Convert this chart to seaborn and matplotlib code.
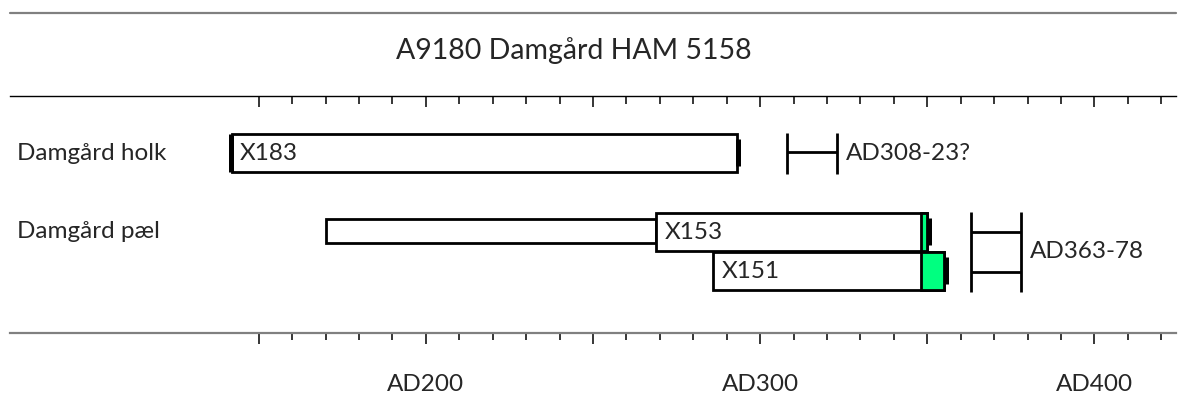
import numpy as np
import pandas as pd
import matplotlib
matplotlib.use("Agg")
import matplotlib.pyplot as plt
import matplotlib.transforms as mtransforms
from matplotlib.lines import Line2D
from matplotlib.ticker import FixedLocator, FuncFormatter
import seaborn as sns

# ------------------------------------------
# data (years AD)
# ------------------------------------------
chart_title = "A9180 Damgård HAM 5158"
group_names = ["Damgård holk", "Damgård pæl"]

sample_ids = ["X183", "X153", "X151"]
sample_first = [142, 269, 286]
sample_sap = [np.nan, 348, 348]      # heartwood/sapwood boundary
sample_last = [293, 350, 355]
sample_start_cap = [True, False, False]

# earlier part of the pæl (no sample label)
pith_first = [170]
pith_last = [269]

felling_labels = ["AD308-23?", "AD363-78"]
felling_first = [308, 363]
felling_last = [323, 378]

major_years = list(range(150, 401, 50))
minor_years = list(range(150, 421, 10))

# ------------------------------------------
# layout (pixel rows from the top of the picture)
# ------------------------------------------
W, H = 1182, 407
group_y = [153, 231]
sample_y = [152.5, 231.5, 270.5]
bar_h = 38
pith_y = [231]
pith_h = 24
felling_span = [(133, 174), (212, 292)]
felling_bars = [[152.3], [232.3, 271.7]]

df = pd.DataFrame({
    "id": sample_ids,
    "first": sample_first,
    "sap": sample_sap,
    "last": sample_last,
    "y": sample_y,
    "start_cap": sample_start_cap,
})

sns.set_style("white")
plt.rcParams["font.family"] = ["Lato", "DejaVu Sans"]

fig = plt.figure(figsize=(W / 100, H / 100), dpi=100)
ax = fig.add_axes([9.6 / W, (H - 332.7) / H, (1176 - 9.6) / W, (332.7 - 96.5) / H])
ax.set_xlim(75.5, 424.4)
ax.set_ylim(332.7, 96.5)

fs = 17.5

# pith part
ax.barh(pith_y, np.array(pith_last) - np.array(pith_first), left=pith_first,
        height=pith_h, color="white", edgecolor="black", linewidth=2.0, zorder=2)

# samples
for _, r in df.iterrows():
    ax.barh(r["y"], r["last"] - r["first"], left=r["first"], height=bar_h,
            color="white", edgecolor="black", linewidth=2.0, zorder=3)
    if not np.isnan(r["sap"]):
        ax.barh(r["y"], r["last"] - r["sap"], left=r["sap"], height=bar_h,
                color="#00FF80", edgecolor="black", linewidth=2.0, zorder=4)
    ax.vlines(r["last"] + 0.5, r["y"] - bar_h * 0.36, r["y"] + bar_h * 0.36,
              color="black", linewidth=3.6, zorder=5)
    if r["start_cap"]:
        ax.vlines(r["first"] - 0.4, r["y"] - bar_h / 2, r["y"] + bar_h / 2,
                  color="black", linewidth=3.6, zorder=5)
    ax.text(r["first"] + 2.4, r["y"] + 1, r["id"], fontsize=fs,
            va="center", ha="left", zorder=6)

# felling date ranges
for lab, a, b, (y0, y1), cross in zip(felling_labels, felling_first, felling_last,
                                      felling_span, felling_bars):
    ax.vlines([a, b], y0, y1, color="black", linewidth=2.0)
    ax.hlines(cross, a, b, color="black", linewidth=2.0)
    ax.text(b + 2.6, np.mean([y0, y1]), lab, fontsize=fs, va="center", ha="left")

# group labels
trans = mtransforms.blended_transform_factory(fig.transFigure, ax.transData)
for name, y in zip(group_names, group_y):
    ax.text(17 / W, y, name, transform=trans, fontsize=fs, va="center", ha="left")

# axes: bottom with labels, top ticks pointing down
for s in ["left", "right", "top"]:
    ax.spines[s].set_visible(False)
ax.spines["bottom"].set_color("#808080")
ax.spines["bottom"].set_linewidth(1.6)
ax.yaxis.set_visible(False)
ax.xaxis.set_major_locator(FixedLocator(major_years))
ax.xaxis.set_minor_locator(FixedLocator(minor_years))
ax.xaxis.set_major_formatter(FuncFormatter(lambda v, p: f"AD{int(v)}" if v % 100 == 0 else ""))
ax.tick_params(axis="x", which="both", bottom=True, top=False)
ax.tick_params(axis="x", which="major", direction="out", length=8, width=1.1,
               color="black", pad=22, labelsize=fs)
ax.tick_params(axis="x", which="minor", direction="out", length=5, width=1.1, color="black")

top = ax.secondary_xaxis("top")
top.spines["top"].set_color("black")
top.spines["top"].set_linewidth(1.0)
top.xaxis.set_major_locator(FixedLocator(major_years))
top.xaxis.set_minor_locator(FixedLocator(minor_years))
top.tick_params(axis="x", which="both", top=True, bottom=False)
top.tick_params(axis="x", which="major", direction="in", length=8, width=1.1,
                color="black", labeltop=False)
top.tick_params(axis="x", which="minor", direction="in", length=5.5, width=1.1, color="black")

# border line at the top of the chart area
fig.add_artist(Line2D([9.6 / W, 1176 / W], [1 - 13.4 / H, 1 - 13.4 / H],
                      transform=fig.transFigure, color="#808080", linewidth=1.6))

fig.text(573.5 / W, 1 - 51 / H, chart_title, fontsize=20.5, ha="center", va="center")

fig.savefig("out.png", dpi=100)
